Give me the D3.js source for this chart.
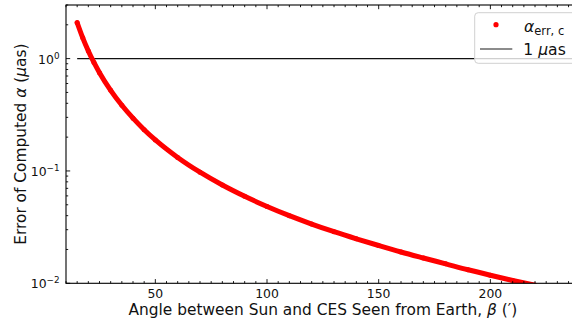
<!DOCTYPE html>
<html>
<head>
<meta charset="utf-8">
<script src="https://cdn.jsdelivr.net/npm/d3@7"></script>
<style>
  html, body { margin: 0; padding: 0; background: #fff; }
  svg { display: block; font-family: "DejaVu Sans", sans-serif; }
</style>
</head>
<body>
<svg id="chart" width="572" height="324"></svg>
<script>
// Angle between Sun and CES seen from Earth (arcmin)
const beta = [15, 17.5, 20, 22.5, 25, 30, 35, 40, 45, 50, 60, 70, 80, 90, 100,
              110, 120, 130, 140, 150, 160, 170, 180, 190, 200, 210, 220];
// Error of computed alpha (micro-arcseconds)
const alphaErr = [2.09, 1.53, 1.17, 0.925, 0.75, 0.522, 0.384, 0.295, 0.233, 0.189,
                  0.132, 0.0975, 0.075, 0.0595, 0.0483, 0.0400, 0.0337, 0.0288,
                  0.0249, 0.0217, 0.0190, 0.0168, 0.0149, 0.0132, 0.0118, 0.0106, 0.0096];
// 1 µas reference level
const refLevel = 1;
const refSpan = [15, 240];

const xMajorTicks = [50, 100, 150, 200];
const yMajorTicks = [0.01, 0.1, 1];
const yTickExponents = ["−2", "−1", "0"];
const xDomain = [10, 240];
const yDomain = [0.01, 3];

const svg = d3.select("#chart");
const plot = { left: 66, top: 5, right: 579.7, bottom: 283.3 };

const x = d3.scaleLinear().domain(xDomain).range([plot.left, plot.right]);
const y = d3.scaleLog().domain(yDomain).range([plot.bottom, plot.top]);

svg.append("defs").append("clipPath").attr("id", "plot-clip")
  .append("rect")
  .attr("x", plot.left).attr("y", plot.top)
  .attr("width", plot.right - plot.left).attr("height", plot.bottom - plot.top);

const points = beta.map((b, i) => ({ b, a: alphaErr[i] }));

const dataLayer = svg.append("g").attr("clip-path", "url(#plot-clip)");

// reference line at 1 µas
dataLayer.append("line")
  .attr("x1", x(refSpan[0])).attr("x2", x(refSpan[1]))
  .attr("y1", y(refLevel)).attr("y2", y(refLevel))
  .attr("stroke", "#111").attr("stroke-width", 1.2);

// dense point series, drawn as a thick track of markers
dataLayer.append("path")
  .datum(points)
  .attr("fill", "none")
  .attr("stroke", "#ff0000")
  .attr("stroke-width", 5)
  .attr("stroke-linecap", "round")
  .attr("d", d3.line().x(d => x(d.b)).y(d => y(d.a)).curve(d3.curveMonotoneX));

dataLayer.selectAll("circle.pt")
  .data(points)
  .join("circle")
  .attr("class", "pt")
  .attr("cx", d => x(d.b)).attr("cy", d => y(d.a))
  .attr("r", 2.5).attr("fill", "#ff0000");

// ticks (pointing inward on all four sides)
const xMinor = d3.range(xDomain[0], xDomain[1] + 0.01, 5).filter(v => !xMajorTicks.includes(v));
const yMinor = [];
[0.01, 0.1, 1].forEach(dec => d3.range(2, 10).forEach(m => {
  const v = m * dec;
  if (v <= yDomain[1] + 1e-9) yMinor.push(v);
}));

const ticks = svg.append("g").attr("stroke", "#000").attr("stroke-width", 0.9);
function xTick(v, len) {
  ticks.append("line").attr("x1", x(v)).attr("x2", x(v))
    .attr("y1", plot.bottom).attr("y2", plot.bottom - len);
  ticks.append("line").attr("x1", x(v)).attr("x2", x(v))
    .attr("y1", plot.top).attr("y2", plot.top + len);
}
function yTick(v, len) {
  ticks.append("line").attr("y1", y(v)).attr("y2", y(v))
    .attr("x1", plot.left).attr("x2", plot.left + len);
  ticks.append("line").attr("y1", y(v)).attr("y2", y(v))
    .attr("x1", plot.right).attr("x2", plot.right - len);
}
xMinor.forEach(v => xTick(v, 2.2));
xMajorTicks.forEach(v => xTick(v, 4.2));
yMinor.forEach(v => yTick(v, 2.2));
yMajorTicks.forEach(v => yTick(v, 4.2));

// frame
svg.append("rect")
  .attr("x", plot.left).attr("y", plot.top)
  .attr("width", plot.right - plot.left).attr("height", plot.bottom - plot.top)
  .attr("fill", "none").attr("stroke", "#000").attr("stroke-width", 1.1);

// tick labels
svg.append("g").selectAll("text")
  .data(xMajorTicks)
  .join("text")
  .attr("x", d => x(d)).attr("y", 298.2)
  .attr("text-anchor", "middle")
  .attr("font-size", 12.4).attr("fill", "#111")
  .text(d => d);

const yLab = svg.append("g").selectAll("text")
  .data(yMajorTicks)
  .join("text")
  .attr("x", 59.5).attr("y", d => y(d) + 4.9)
  .attr("text-anchor", "end")
  .attr("font-size", 12.4).attr("fill", "#111");
yLab.append("tspan").text("10");
yLab.append("tspan").attr("dy", -5).attr("font-size", 8.8)
  .text((d, i) => yTickExponents[i]);

// axis titles
const xTitle = svg.append("text")
  .attr("x", (plot.left + plot.right) / 2).attr("y", 315)
  .attr("text-anchor", "middle").attr("font-size", 15.4).attr("fill", "#111");
xTitle.append("tspan").text("Angle between Sun and CES Seen from Earth, ");
xTitle.append("tspan").attr("font-style", "italic").text("β");
xTitle.append("tspan").text(" (′)");

const yTitle = svg.append("text")
  .attr("transform", `translate(25.5,${(plot.top + plot.bottom) / 2}) rotate(-90)`)
  .attr("text-anchor", "middle").attr("font-size", 15.4).attr("fill", "#111");
yTitle.append("tspan").text("Error of Computed ");
yTitle.append("tspan").attr("font-style", "italic").text("α");
yTitle.append("tspan").text(" (");
yTitle.append("tspan").attr("font-style", "italic").text("μ");
yTitle.append("tspan").text("as)");

// legend
const legend = svg.append("g");
legend.append("rect")
  .attr("x", 474.7).attr("y", 12.7).attr("width", 120).attr("height", 50.6)
  .attr("rx", 3.5)
  .attr("fill", "#fff").attr("fill-opacity", 0.8)
  .attr("stroke", "#d0d0d0").attr("stroke-width", 1);
legend.append("circle").attr("cx", 496).attr("cy", 24.7).attr("r", 2.6).attr("fill", "#ff0000");
const l1 = legend.append("text").attr("x", 524).attr("y", 31.8)
  .attr("font-size", 15.6).attr("fill", "#111");
l1.append("tspan").attr("font-style", "italic").text("α");
l1.append("tspan").attr("dy", 3.2).attr("font-size", 11.5).text("err, c");
legend.append("line")
  .attr("x1", 480).attr("x2", 512.3).attr("y1", 49).attr("y2", 49)
  .attr("stroke", "#666").attr("stroke-width", 1.6);
const l2 = legend.append("text").attr("x", 523.3).attr("y", 54.5)
  .attr("font-size", 15.6).attr("fill", "#111");
l2.append("tspan").text("1 ");
l2.append("tspan").attr("font-style", "italic").text("μ");
l2.append("tspan").text("as");
</script>
</body>
</html>
